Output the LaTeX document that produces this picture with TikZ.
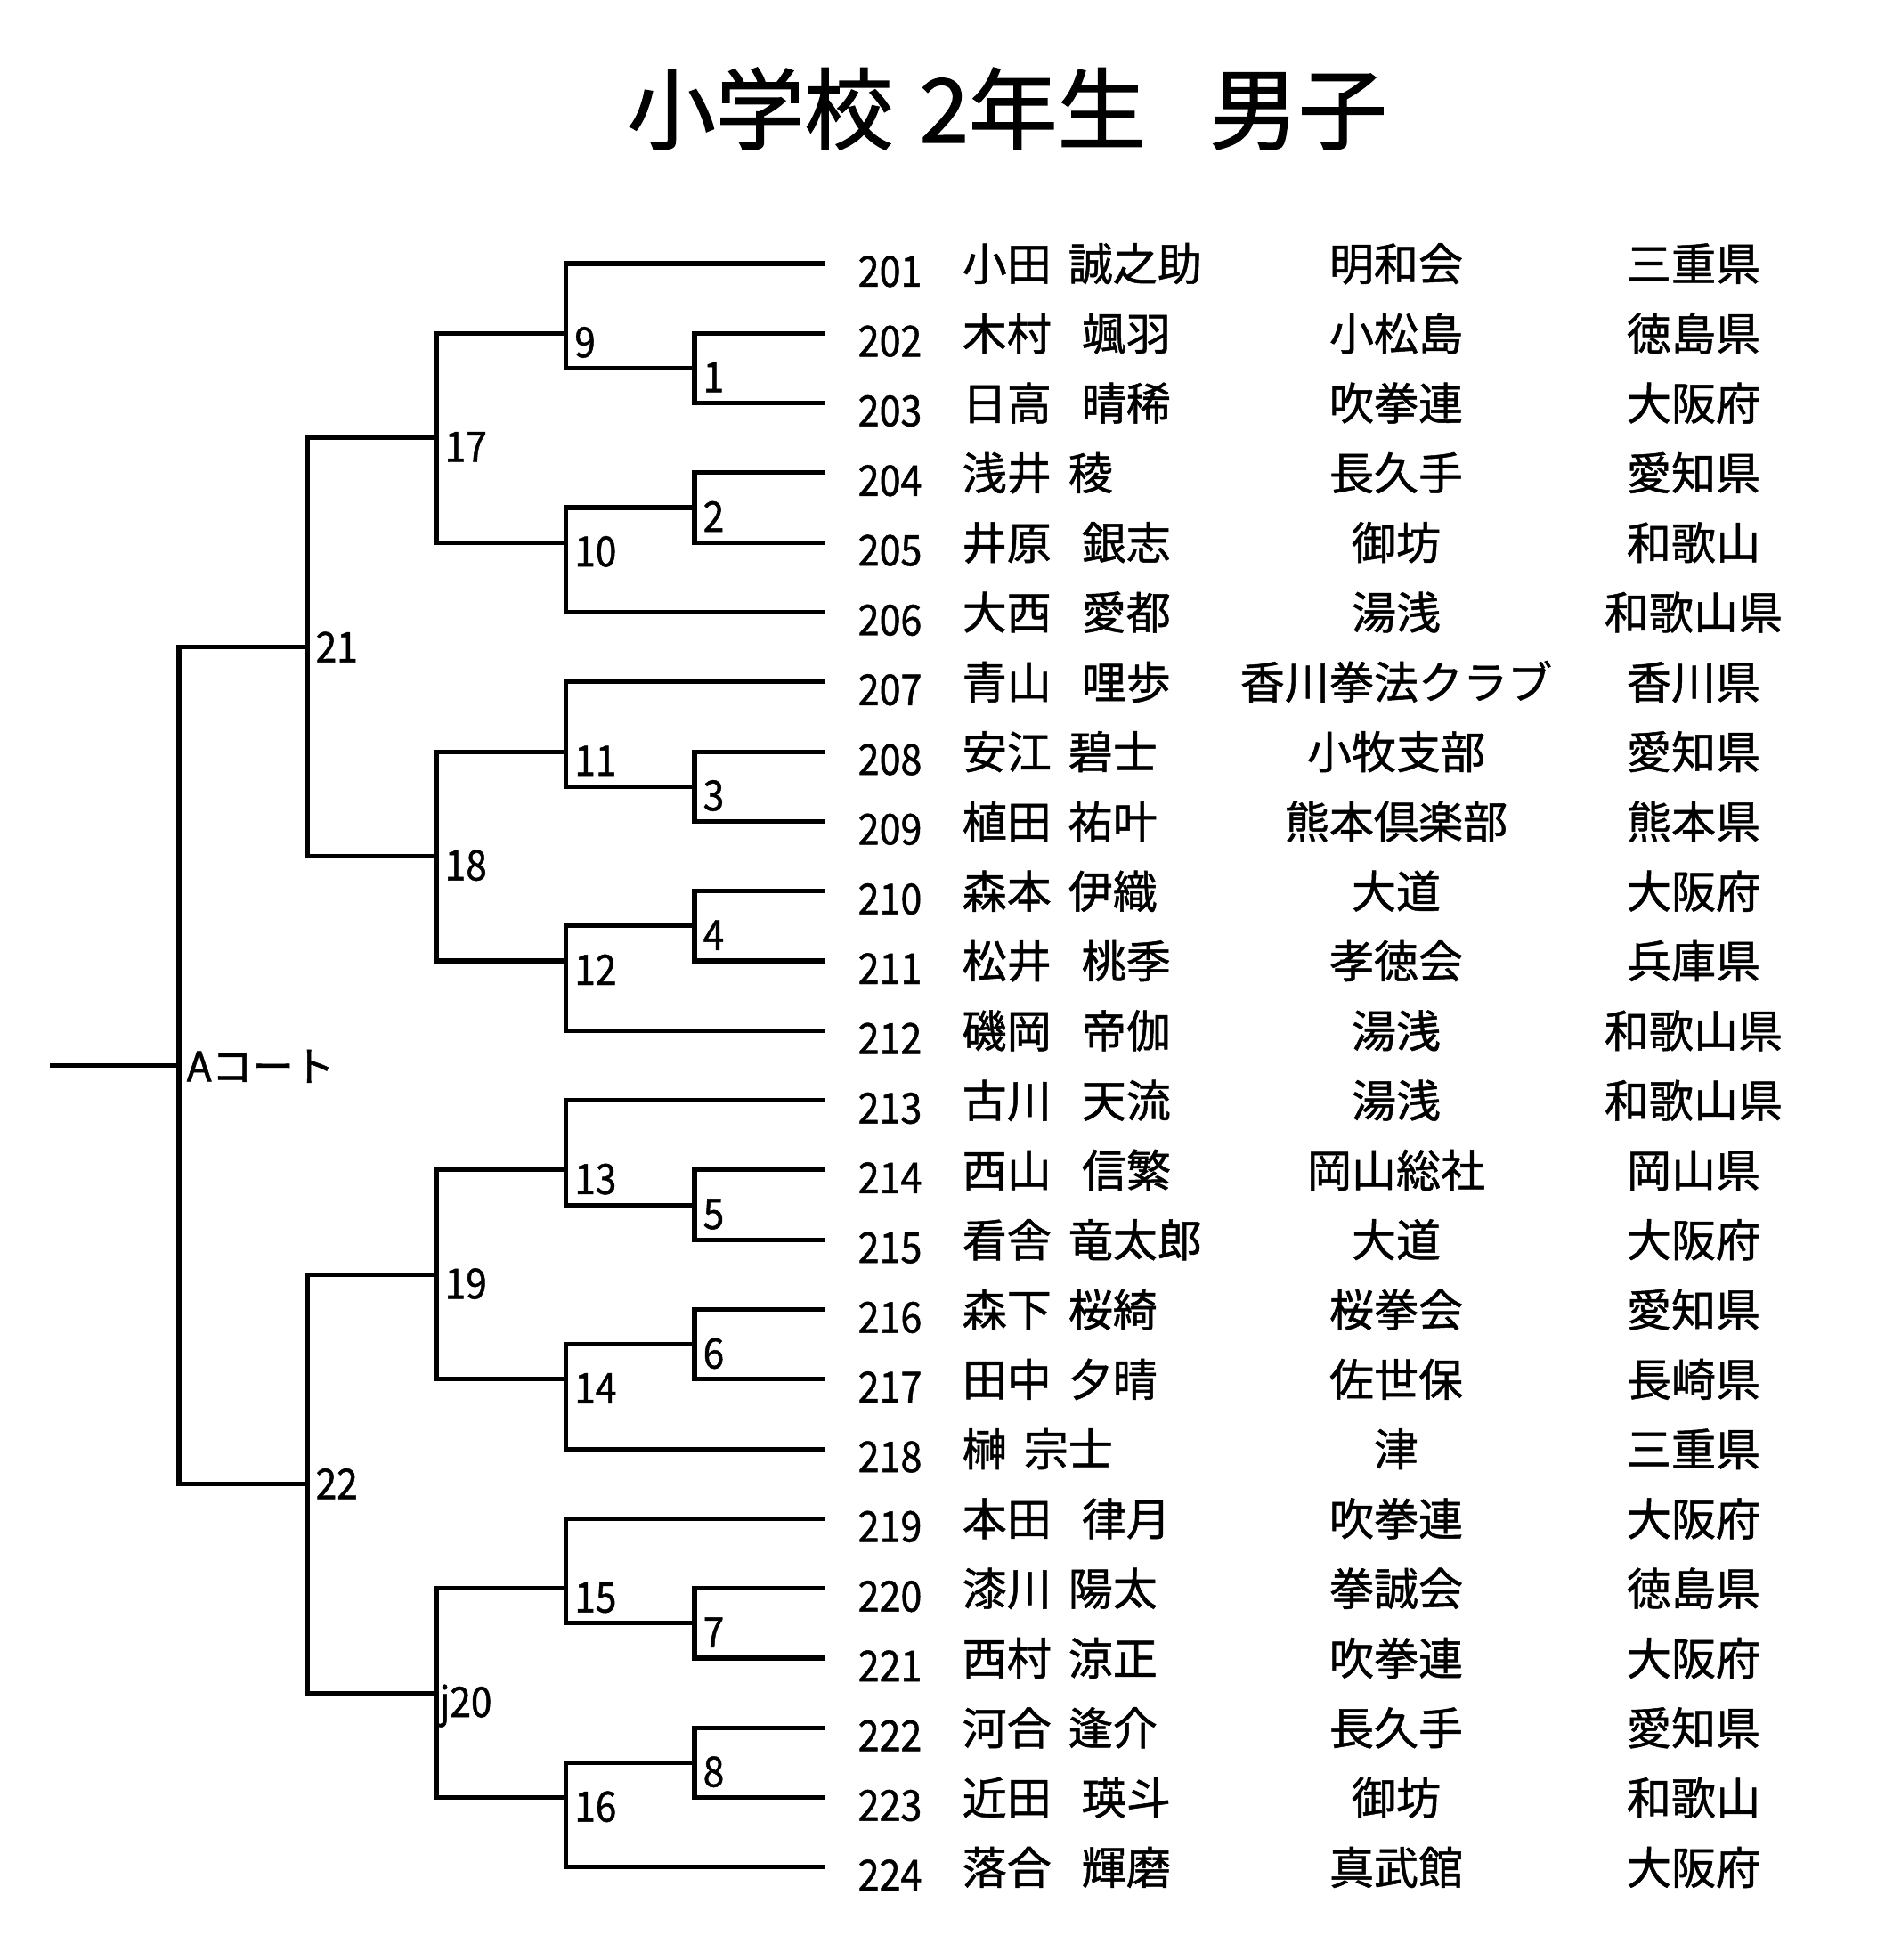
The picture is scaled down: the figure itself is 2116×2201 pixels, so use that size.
\documentclass[tikz,border=0pt]{standalone}
\usepackage{fontspec}
\setmainfont{Noto Sans CJK JP}[FakeBold=1.0]
\newfontfamily\numfont{Noto Sans CJK JP}[FakeStretch=0.9,FakeBold=1.0]
\newfontfamily\titlefont{Noto Sans CJK JP}[FakeBold=1.4]
\usetikzlibrary{calc}
\newcommand\RY[1]{(296+(#1-1)*78.3)}
\newcommand\GapN{\hspace{0.38em}}
\newcommand\GapW{\hspace{0.68em}}
\tikzset{
  br/.style={line width=1.45pt, line join=miter},
  rownum/.style={font=\numfont\fontsize{13.6pt}{13.6pt}\selectfont, inner sep=0pt, anchor=base west},
  lbl/.style={font=\numfont\fontsize{13.4pt}{13.4pt}\selectfont, inner sep=0pt, anchor=base west},
  court/.style={font=\fontsize{13.09pt}{13.09pt}\selectfont, inner sep=0pt, anchor=base west},
  nametxt/.style={font=\fontsize{14.23pt}{14.23pt}\selectfont, inner sep=0pt, anchor=base west},
  clubtxt/.style={font=\fontsize{14.23pt}{14.23pt}\selectfont, inner sep=0pt, anchor=base},
  preftxt/.style={font=\fontsize{14.23pt}{14.23pt}\selectfont, inner sep=0pt, anchor=base},
  titletxt/.style={font=\titlefont\fontsize{28.3pt}{28.3pt}\selectfont, inner sep=0pt, anchor=base}
}
\newcommand\Row[5]{%
  \coordinate (p#1) at (926,{\RY{#1}});
  \node[rownum] (n#1) at (963,{\RY{#1}+26}) {#2};
  \node[nametxt] (a#1) at (1080,{\RY{#1}+19}) {#3};
  \node[clubtxt] (c#1) at (1568,{\RY{#1}+19}) {#4};
  \node[preftxt] (f#1) at (1902,{\RY{#1}+19}) {#5};
}
\begin{document}
\begin{tikzpicture}[x=0.01cm,y=-0.01cm]
\fill[white] (0,0) rectangle (2116,2201);
\useasboundingbox (0,0) rectangle (2116,2201);

\node[titletxt] (title) at (1131,160) {小学校\hspace{0.3em}2年生\hspace{0.72em}男子};

\Row{1}{201}{小田\GapN 誠之助}{明和会}{三重県}
\Row{2}{202}{木村\GapW 颯羽}{小松島}{徳島県}
\Row{3}{203}{日高\GapW 晴稀}{吹拳連}{大阪府}
\Row{4}{204}{浅井\GapN 稜}{長久手}{愛知県}
\Row{5}{205}{井原\GapW 銀志}{御坊}{和歌山}
\Row{6}{206}{大西\GapW 愛都}{湯浅}{和歌山県}
\Row{7}{207}{青山\GapW 哩歩}{香川拳法クラブ}{香川県}
\Row{8}{208}{安江\GapN 碧士}{小牧支部}{愛知県}
\Row{9}{209}{植田\GapN 祐叶}{熊本倶楽部}{熊本県}
\Row{10}{210}{森本\GapN 伊織}{大道}{大阪府}
\Row{11}{211}{松井\GapW 桃季}{孝徳会}{兵庫県}
\Row{12}{212}{磯岡\GapW 帝伽}{湯浅}{和歌山県}
\Row{13}{213}{古川\GapW 天流}{湯浅}{和歌山県}
\Row{14}{214}{西山\GapW 信繁}{岡山総社}{岡山県}
\Row{15}{215}{看舎\GapN 竜太郎}{大道}{大阪府}
\Row{16}{216}{森下\GapN 桜綺}{桜拳会}{愛知県}
\Row{17}{217}{田中\GapN 夕晴}{佐世保}{長崎県}
\Row{18}{218}{榊\GapN 宗士}{津}{三重県}
\Row{19}{219}{本田\GapW 律月}{吹拳連}{大阪府}
\Row{20}{220}{漆川\GapN 陽太}{拳誠会}{徳島県}
\Row{21}{221}{西村\GapN 涼正}{吹拳連}{大阪府}
\Row{22}{222}{河合\GapN 逢介}{長久手}{愛知県}
\Row{23}{223}{近田\GapW 瑛斗}{御坊}{和歌山}
\Row{24}{224}{落合\GapW 輝磨}{真武館}{大阪府}

% first-round junctions
\coordinate (m1) at (780,{\RY{2.5}});
\coordinate (m2) at (780,{\RY{4.5}});
\coordinate (m3) at (780,{\RY{8.5}});
\coordinate (m4) at (780,{\RY{10.5}});
\coordinate (m5) at (780,{\RY{14.5}});
\coordinate (m6) at (780,{\RY{16.5}});
\coordinate (m7) at (780,{\RY{20.5}});
\coordinate (m8) at (780,{\RY{22.5}});
% second round
\coordinate (j9) at (635.6,{\RY{2}});
\coordinate (j10) at (635.6,{\RY{5}});
\coordinate (j11) at (635.6,{\RY{8}});
\coordinate (j12) at (635.6,{\RY{11}});
\coordinate (j13) at (635.6,{\RY{14}});
\coordinate (j14) at (635.6,{\RY{17}});
\coordinate (j15) at (635.6,{\RY{20}});
\coordinate (j16) at (635.6,{\RY{23}});
% third round
\coordinate (j17) at (490,{\RY{3.5}});
\coordinate (j18) at (490,{\RY{9.5}});
\coordinate (j19) at (490,{\RY{15.5}});
\coordinate (j20) at (490,{\RY{21.5}});
% semifinals
\coordinate (j21) at (345,{\RY{6.5}});
\coordinate (j22) at (345,{\RY{18.5}});
% final
\coordinate (jA) at (201,{\RY{12.5}});
\coordinate (s0) at (56,{\RY{12.5}});

% bracket lines
\draw[br] (p2) -| (m1) |- (p3);
\draw[br] (p1) -| (j9) |- (m1);
\draw[br] (p4) -| (m2) |- (p5);
\draw[br] (m2) -| (j10) |- (p6);
\draw[br] (p8) -| (m3) |- (p9);
\draw[br] (p7) -| (j11) |- (m3);
\draw[br] (p10) -| (m4) |- (p11);
\draw[br] (m4) -| (j12) |- (p12);
\draw[br] (p14) -| (m5) |- (p15);
\draw[br] (p13) -| (j13) |- (m5);
\draw[br] (p16) -| (m6) |- (p17);
\draw[br] (m6) -| (j14) |- (p18);
\draw[br] (p20) -| (m7) |- (p21);
\draw[br] (p19) -| (j15) |- (m7);
\draw[br] (p22) -| (m8) |- (p23);
\draw[br] (m8) -| (j16) |- (p24);
\draw[br] (j9) -| (j17) |- (j10);
\draw[br] (j11) -| (j18) |- (j12);
\draw[br] (j13) -| (j19) |- (j14);
\draw[br] (j15) -| (j20) |- (j16);
\draw[br] (j17) -| (j21) |- (j18);
\draw[br] (j19) -| (j22) |- (j20);
\draw[br] (j21) -| (jA) |- (j22);
\draw[br] (s0) -- (jA);

% match labels
\node[lbl] (l1) at ([shift={(9,27)}]m1) {1};
\node[lbl] (l2) at ([shift={(9,27)}]m2) {2};
\node[lbl] (l3) at ([shift={(9,27)}]m3) {3};
\node[lbl] (l4) at ([shift={(9,27)}]m4) {4};
\node[lbl] (l5) at ([shift={(9,27)}]m5) {5};
\node[lbl] (l6) at ([shift={(9,27)}]m6) {6};
\node[lbl] (l7) at ([shift={(9,27)}]m7) {7};
\node[lbl] (l8) at ([shift={(9,27)}]m8) {8};
\node[lbl] (l9) at ([shift={(9,27)}]j9) {9};
\node[lbl] (l10) at ([shift={(9,27)}]j10) {10};
\node[lbl] (l11) at ([shift={(9,27)}]j11) {11};
\node[lbl] (l12) at ([shift={(9,27)}]j12) {12};
\node[lbl] (l13) at ([shift={(9,27)}]j13) {13};
\node[lbl] (l14) at ([shift={(9,27)}]j14) {14};
\node[lbl] (l15) at ([shift={(9,27)}]j15) {15};
\node[lbl] (l16) at ([shift={(9,27)}]j16) {16};
\node[lbl] (l17) at ([shift={(9,27)}]j17) {17};
\node[lbl] (l18) at ([shift={(9,27)}]j18) {18};
\node[lbl] (l19) at ([shift={(9,27)}]j19) {19};
\node[lbl] (l20) at ([shift={(3,27)}]j20) {j20};
\node[lbl] (l21) at ([shift={(9,17)}]j21) {21};
\node[lbl] (l22) at ([shift={(9,17)}]j22) {22};
\node[court] (lA) at ([shift={(8,18)}]jA) {Aコート};
\end{tikzpicture}
\end{document}
